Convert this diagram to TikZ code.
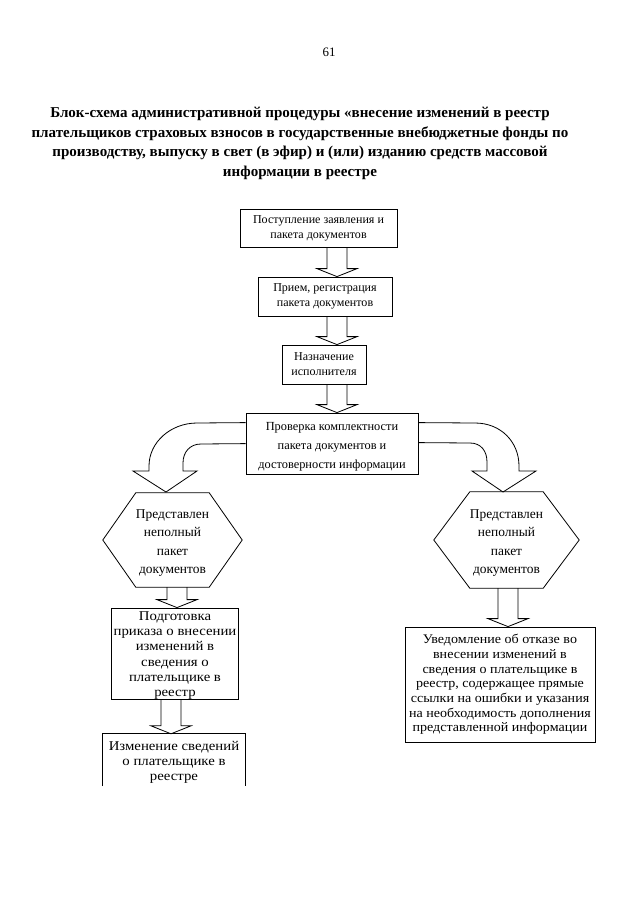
\documentclass[tikz,border=0pt]{standalone}
\usepackage{fontspec}
\setmainfont{Liberation Serif}
\newfontfamily\widefont[FakeStretch=1.1]{Liberation Serif}
\newfontfamily\semiwide[FakeStretch=1.07]{Liberation Serif}
\usetikzlibrary{calc}
\newcommand\blockarr[3]{%
  \draw[blk] let \p1=(#1 |- #2), \p2=(#1 |- #3) in
   (\x1-9.3pt,\y1) -- (\x1-9.3pt,\y2+7.4pt) -- (\x1-18.6pt,\y2+7.4pt) -- (\x1,\y2)
   -- (\x1+18.6pt,\y2+7.4pt) -- (\x1+9.3pt,\y2+7.4pt) -- (\x1+9.3pt,\y1);}
\begin{document}
\begin{tikzpicture}[x=0.9301pt,y=-0.9301pt,
  box/.style={draw, align=center, inner sep=0pt, line width=0.75pt},
  plain/.style={align=center, inner sep=0pt},
  wh/.style 2 args={minimum width=#1*0.9301pt, minimum height=#2*0.9301pt},
  blk/.style={draw, line width=0.75pt, line join=miter},
  fa/.style={font=\fontsize{11.2}{14}\selectfont},
  fb/.style={font=\fontsize{11.5}{17.5}\selectfont},
  fh/.style={font=\fontsize{12.5}{17}\selectfont},
  fc/.style={font=\widefont\fontsize{12.5}{14}\selectfont},
  fd/.style={font=\semiwide\fontsize{12.2}{13.6}\selectfont}]
\fill[white] (0,0) rectangle (640,905);
\useasboundingbox (0,0) rectangle (640,905);

\node[font=\fontsize{12}{14}\selectfont] (pg) at (329,52) {61};
\node[align=center, font=\bfseries\fontsize{14}{18.3}\selectfont] (title) at (300,143.5)
 {Блок-схема административной процедуры «внесение изменений в реестр\\
  плательщиков страховых взносов в государственные внебюджетные фонды по\\
  производству, выпуску в свет (в эфир) и (или) изданию средств массовой\\
  информации в реестре};

\node[box, wh={157}{38}, fa] (b1) at (318.5,228) {Поступление заявления и\\пакета документов};
\node[box, wh={134}{39}, fa] (b2) at (325,296.5) {Прием, регистрация\\пакета документов};
\node[box, wh={84}{39}, fa] (b3) at (324,364.5) {Назначение\\исполнителя};
\node[box, wh={172}{61}] (b4) at (332,443.5) {};
\node[plain, fb] (b4t) at ($(b4.center)+(0,3.5)$) {Проверка комплектности\\пакета документов и\\достоверности информации};

\node[plain, wh={139}{94}] (h1) at (172.5,540) {};
\node[plain, wh={145}{96}] (h2) at (506.5,540) {};
\node[plain, fh] (h1t) at ($(h1.center)+(0,3)$) {Представлен\\неполный\\пакет\\документов};
\node[plain, fh] (h2t) at ($(h2.center)+(0,3)$) {Представлен\\неполный\\пакет\\документов};
\draw[blk] (h1.west) -- ($(h1.north west)+(33,0)$) -- ($(h1.north east)+(-33,0)$) -- (h1.east)
  -- ($(h1.south east)+(-33,0)$) -- ($(h1.south west)+(33,0)$) -- cycle;
\draw[blk] (h2.west) -- ($(h2.north west)+(36,0)$) -- ($(h2.north east)+(-36,0)$) -- (h2.east)
  -- ($(h2.south east)+(-36,0)$) -- ($(h2.south west)+(36,0)$) -- cycle;

\node[box, wh={127}{91}] (b5) at (175,653.5) {};
\node[plain, fc] (b5t) at ($(b5.center)+(0,2)$)
  {Подготовка\\приказа о внесении\\изменений в\\сведения о\\плательщике в\\реестр};
\node[plain, wh={142}{52}] (b6) at (174,760) {};
\node[plain, fc] (b6t) at ($(b6.center)+(0,2)$) {Изменение сведений\\о плательщике в\\реестре};
\draw[blk] (b6.south west) -- (b6.north west) -- (b6.north east) -- (b6.south east);
\node[box, wh={190}{115}, fd] (b7) at (500,684.5)
  {Уведомление об отказе во\\внесении изменений в\\сведения о плательщике в\\реестр, содержащее прямые\\ссылки на ошибки и указания\\на необходимость дополнения\\представленной информации};

\coordinate (ax) at (337,0);
\coordinate (axl) at (177,0);
\coordinate (axm) at (171,0);
\coordinate (axr) at (508,0);
\blockarr{ax}{b1.south}{b2.north}
\blockarr{ax}{b2.south}{b3.north}
\blockarr{ax}{b3.south}{b4.north}
\blockarr{axl}{h1.south}{b5.north}
\blockarr{axm}{b5.south}{b6.north}
\blockarr{axr}{h2.south}{b7.north}

\draw[blk] ($(b4.north west)+(0,10)$) -- (197,423) .. controls (171,423) and (149,442) .. (149,466)
  -- (149,471) -- (133,471) -- (166,492) -- (197,471) -- (183,471) -- (183,463)
  .. controls (183,452) and (190,444) .. (201,444) -- ($(b4.north west)+(0,31)$);
\draw[blk] ($(b4.north east)+(0,10)$) -- (475,423) .. controls (501,423) and (519,442) .. (519,466)
  -- (519,471) -- (536,471) -- (503,492) -- (472,471) -- (487,471) -- (487,462)
  .. controls (487,451) and (481,443) .. (470,443) -- ($(b4.north east)+(0,30)$);
\end{tikzpicture}
\end{document}
